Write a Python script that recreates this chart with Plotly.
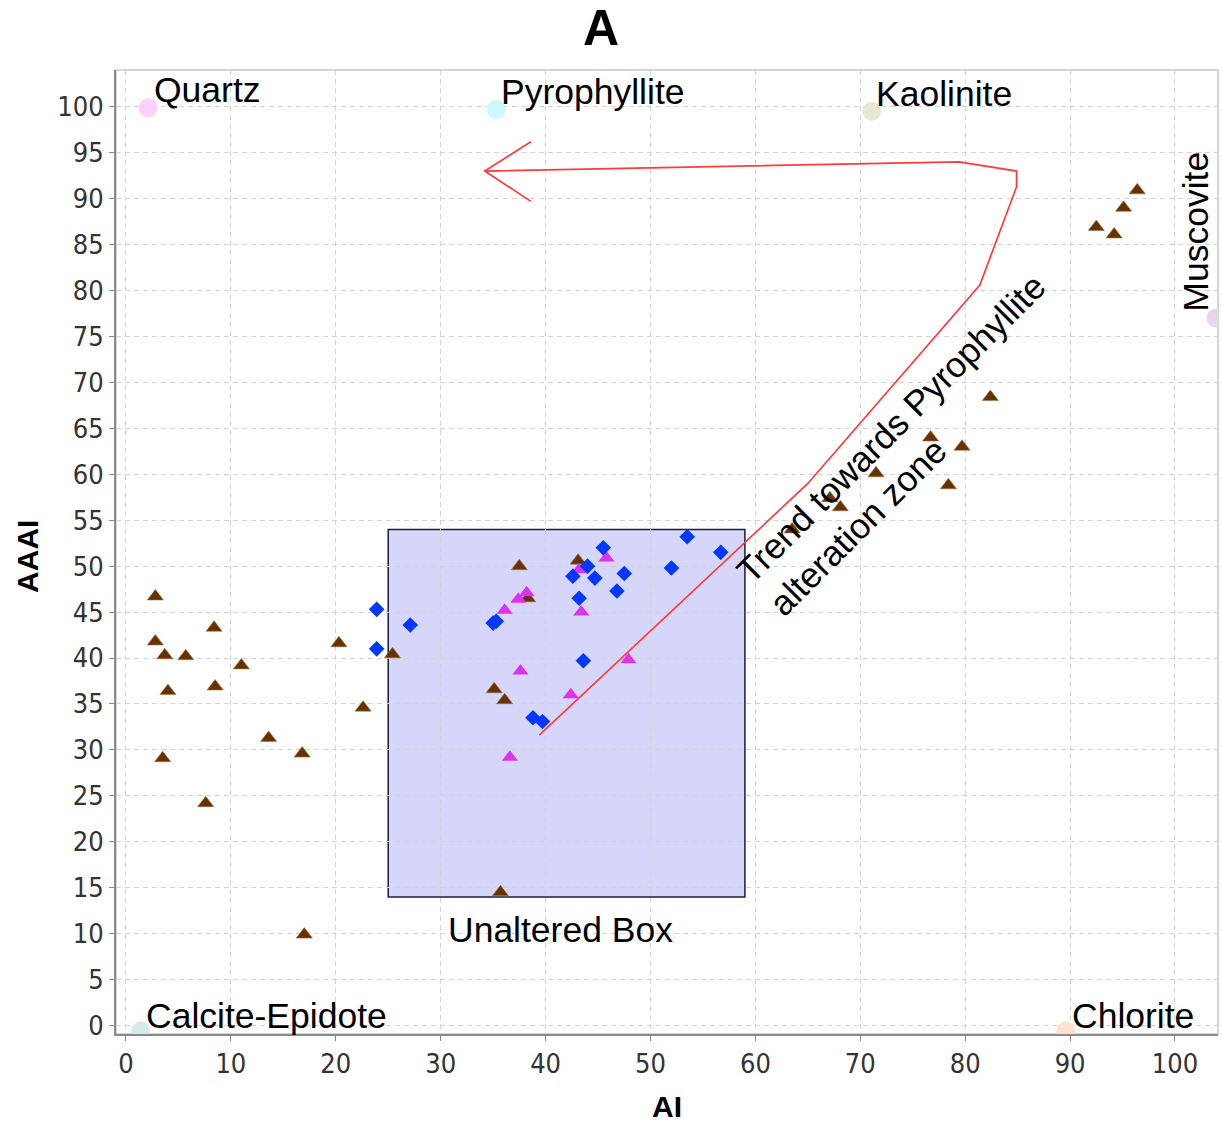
import plotly.graph_objects as go

# Sample data: brown triangles (altered samples outside the box trend)
brown_x = [2.8, 2.8, 3.7, 5.7, 4.0, 8.4, 8.5, 11.0, 3.5, 7.6, 13.6, 16.8, 17.0,
           20.3, 22.6, 25.4, 37.5, 43.1, 38.3, 35.1, 36.1, 35.7,
           63.5, 67.1, 68.1, 71.5, 76.7, 79.7, 78.4, 82.4,
           92.5, 94.2, 95.1, 96.4]
brown_y = [46.7, 41.8, 40.3, 40.2, 36.4, 43.3, 36.9, 39.2, 29.1, 24.2, 31.3, 29.6, 9.9,
           41.6, 34.6, 40.4, 50.0, 50.6, 46.5, 36.6, 35.4, 14.5,
           54.0, 57.4, 56.4, 60.1, 64.0, 63.0, 58.8, 68.4,
           86.9, 86.1, 89.0, 90.9]

# Magenta triangles
magenta_x = [45.8, 43.2, 38.2, 37.4, 36.1, 43.4, 47.9, 37.6, 42.4, 36.6]
magenta_y = [50.9, 49.6, 47.1, 46.4, 45.2, 45.0, 39.8, 38.6, 36.0, 29.2]

# Blue diamonds
blue_x = [23.9, 23.9, 27.1, 35.0, 35.3, 45.5, 44.0, 42.6, 44.7, 47.5, 43.2, 46.8,
          43.6, 38.8, 39.7, 52.0, 53.5, 56.7]
blue_y = [45.3, 41.0, 43.6, 43.8, 44.0, 52.0, 50.0, 48.9, 48.7, 49.2, 46.5, 47.3,
          39.7, 33.5, 33.1, 49.8, 53.2, 51.5]

# Mineral end-members
minerals = ["Quartz", "Pyrophyllite", "Kaolinite", "Muscovite", "Calcite-Epidote", "Chlorite"]
mineral_x = [2.1, 35.3, 71.1, 103.9, 1.4, 89.6]
mineral_y = [99.9, 99.7, 99.5, 77.0, -0.6, -0.6]
mineral_colors = ["#ffd0f8", "#ccfafc", "#e8e8d2", "#ead6ec", "#d2eaea", "#fde3cf"]

# Unaltered box limits
box_x = [25, 59]
box_y = [14, 54]

# Trend path towards the pyrophyllite zone
trend_x = [39.4, 65.0, 81.4, 84.9, 84.9, 79.4, 34.2]
trend_y = [31.6, 59.0, 80.6, 91.3, 93.0, 94.0, 93.0]
head_x = [38.6, 34.2, 38.6]
head_y = [96.2, 93.0, 89.7]

x_ticks = list(range(0, 101, 10))
y_ticks = list(range(0, 101, 5))

fig = go.Figure()

fig.add_shape(type="rect", x0=box_x[0], x1=box_x[1], y0=box_y[0], y1=box_y[1],
              xref="x", yref="y", layer="below",
              fillcolor="#d6d6fa", line=dict(color="#1c1c3c", width=1.5))

for name, mx, my, c in zip(minerals, mineral_x, mineral_y, mineral_colors):
    fig.add_trace(go.Scatter(x=[mx], y=[my], mode="markers", name=name,
                             marker=dict(size=19, color=c, line=dict(width=0))))

fig.add_trace(go.Scatter(x=trend_x, y=trend_y, mode="lines",
                         line=dict(color="#ff3b3b", width=1.7)))
fig.add_trace(go.Scatter(x=head_x, y=head_y, mode="lines",
                         line=dict(color="#ff3b3b", width=1.7)))

fig.add_trace(go.Scatter(x=brown_x, y=brown_y, mode="markers",
                         marker=dict(symbol="triangle-up", size=14, color="#663300",
                                     line=dict(width=0.6, color="#a0703c"))))
fig.add_trace(go.Scatter(x=magenta_x, y=magenta_y, mode="markers",
                         marker=dict(symbol="triangle-up", size=14, color="#dd33ee",
                                     line=dict(width=0))))
fig.add_trace(go.Scatter(x=blue_x, y=blue_y, mode="markers",
                         marker=dict(symbol="diamond", size=12, color="#0038ff",
                                     line=dict(width=0))))

label_font = dict(family="Liberation Sans, Arial, sans-serif", size=35.5, color="black")
labels = [
    ("Quartz", 2.5, 101.85),
    ("Pyrophyllite", 35.55, 101.6),
    ("Kaolinite", 71.3, 101.4),
    ("Calcite-Epidote", 1.7, 1.0),
    ("Chlorite", 90.0, 1.0),
]
for txt, lx, ly in labels:
    fig.add_annotation(x=lx, y=ly, text=txt, showarrow=False, xanchor="left",
                       yanchor="middle", font=label_font)
fig.add_annotation(x=102.0, y=86.4, text="Muscovite", showarrow=False, textangle=-90,
                   xanchor="center", yanchor="middle", font=label_font)
fig.add_annotation(x=41.4, y=10.45, text="Unaltered Box", showarrow=False,
                   xanchor="center", yanchor="middle", font=label_font)
fig.add_annotation(x=74.5, y=63.2, text="Trend towards Pyrophyllite<br>alteration zone",
                   showarrow=False, textangle=-45, align="left",
                   xanchor="center", yanchor="middle", font=label_font)

# Title and axis titles
fig.add_annotation(x=0.4401, y=1.0436, xref="paper", yref="paper",
                   text="<b>A</b>", showarrow=False, xanchor="center", yanchor="middle",
                   font=dict(family="Liberation Sans, Arial, sans-serif", size=50, color="black"))
fig.add_annotation(x=0.5, y=-0.0757, xref="paper", yref="paper", text="<b>AI</b>",
                   showarrow=False, xanchor="center", yanchor="middle",
                   font=dict(family="Liberation Sans, Arial, sans-serif", size=30, color="black"))
fig.add_annotation(x=-0.0799, y=0.4959, xref="paper", yref="paper", text="<b>AAAI</b>",
                   showarrow=False, textangle=-90, xanchor="center", yanchor="middle",
                   font=dict(family="Liberation Sans, Arial, sans-serif", size=30, color="black"))

tick_font = dict(family="Liberation Sans Narrow, Arial Narrow, DejaVu Sans Condensed, sans-serif",
                 size=27, color="#333333")
axis_common = dict(showgrid=True, gridcolor="#d4d4d4", griddash="5px,4px", gridwidth=1,
                   zeroline=False, showline=True, linecolor="#8a8a8a", linewidth=2,
                   ticks="outside", ticklen=5, tickcolor="#8a8a8a", tickfont=tick_font)

fig.update_xaxes(range=[-0.95, 104.1], tickvals=x_ticks, **axis_common)
fig.update_yaxes(range=[-0.92, 104.0], tickvals=y_ticks, **axis_common)

# light frame on top/right
fig.add_shape(type="rect", xref="paper", yref="paper", x0=0, x1=1, y0=0, y1=1,
              line=dict(color="#c8c8c8", width=1.5), layer="below")

fig.update_layout(width=1222, height=1126, showlegend=False,
                  margin=dict(l=116, r=4, t=70, b=92),
                  plot_bgcolor="white", paper_bgcolor="white")

fig.write_html("out.html")
